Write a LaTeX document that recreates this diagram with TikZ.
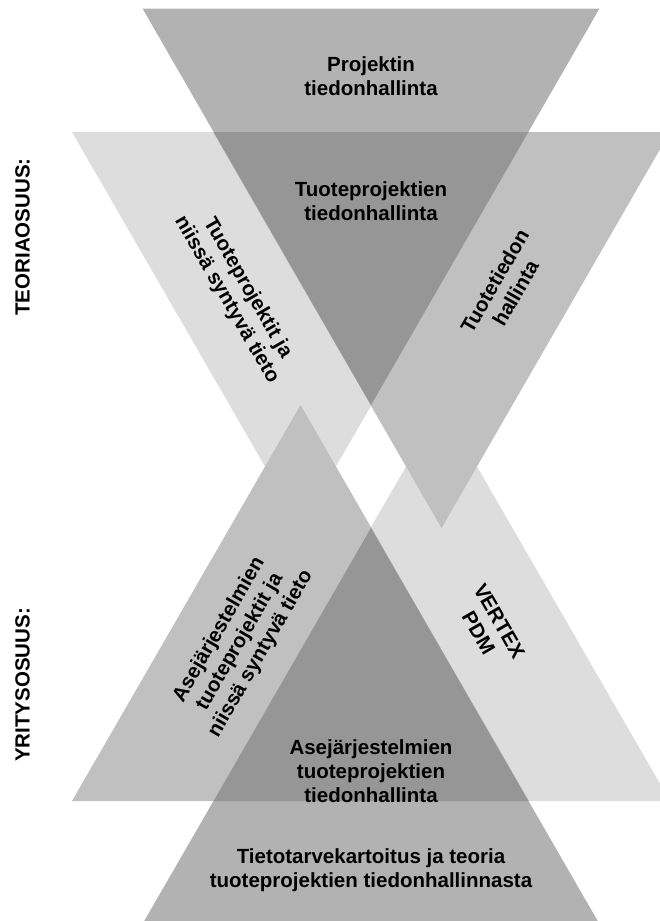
\documentclass[tikz,border=0pt]{standalone}
\usepackage{fontspec}
\setmainfont{Liberation Sans}
\definecolor{lightg}{RGB}{221,221,221}
\definecolor{midg}{RGB}{192,192,192}
\definecolor{trig}{RGB}{178,178,178}
\definecolor{darkg}{RGB}{150,150,150}
\begin{document}
\begin{tikzpicture}[x=1bp,y=-1bp,
  lbl/.style={font=\bfseries\fontsize{20.5bp}{24bp}\selectfont, align=center, inner sep=0pt, text=black}]
\useasboundingbox (0,0) rectangle (660,921);
\clip (0,0) rectangle (660,921);
% light bands
\fill[lightg] (72,132) -- (529,132) -- (300.5,528) -- cycle;
\fill[lightg] (441.5,405) -- (213,801) -- (670,801) -- cycle;
% medium bands
\fill[midg] (213,132) -- (670,132) -- (441.5,528) -- cycle;
\fill[midg] (300.5,405) -- (72,801) -- (529,801) -- cycle;
% top and bottom triangles
\fill[trig] (142.5,8.5) -- (599.5,8.5) -- (371,405) -- cycle;
\fill[trig] (371,528) -- (142.5,924) -- (599.5,924) -- cycle;
% dark overlaps
\fill[darkg] (213.7,132) -- (528.3,132) -- (371,405) -- cycle;
\fill[darkg] (371,528) -- (213.7,801) -- (528.3,801) -- cycle;
% labels
\node[lbl] (proj) at (371,76) {Projektin\\tiedonhallinta};
\node[lbl] (tphall) at (371,201) {Tuoteprojektien\\tiedonhallinta};
\node[lbl, rotate=-60] (tptieto) at (237,294) {Tuoteprojektit ja\\niissä syntyvä tieto};
\node[lbl, rotate=60] (tuotetieto) at (505,287) {Tuotetiedon\\hallinta};
\node[lbl, rotate=60] (asetieto) at (240,642) {Asejärjestelmien\\tuoteprojektit ja\\niissä syntyvä tieto};
\node[lbl, rotate=-60] (vertex) at (489,627) {VERTEX\\PDM};
\node[lbl] (asehall) at (371,771) {Asejärjestelmien\\tuoteprojektien\\tiedonhallinta};
\node[lbl] (tieto) at (371,870) {Tietotarvekartoitus ja teoria\\tuoteprojektien tiedonhallinnasta};
\node[lbl, rotate=90] (teoria) at (22.5,237) {TEORIAOSUUS:};
\node[lbl, rotate=90] (yritys) at (22.5,685) {YRITYSOSUUS:};
\end{tikzpicture}
\end{document}
